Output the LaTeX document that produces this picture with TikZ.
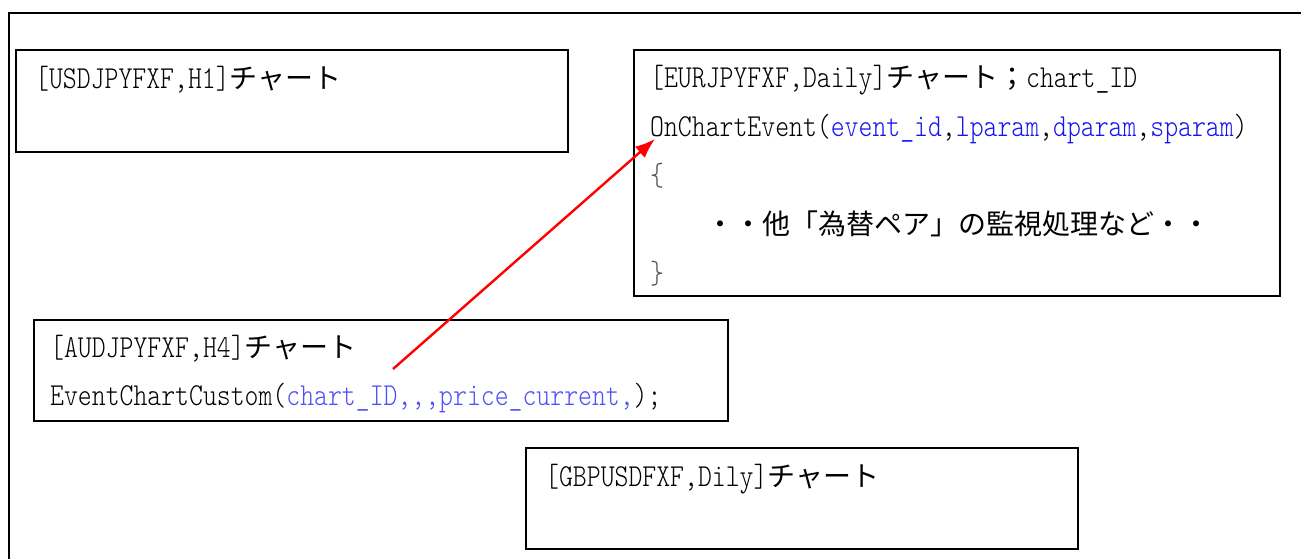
\documentclass[tikz,border=0pt]{standalone}
\usepackage{fontspec}
\usetikzlibrary{arrows.meta}
% Half-width Latin: light serif monospace, narrowed; Japanese in a CJK family
\setmainfont{lmmonolt10-regular.otf}[FakeStretch=0.827]
\newfontfamily\jpfont{Noto Sans CJK JP}
\newcommand{\jp}[1]{{\jpfont\fontsize{28}{30}\selectfont #1}}
\definecolor{argblue}{RGB}{20,20,240}
\definecolor{argblueb}{RGB}{80,80,250}
\definecolor{bracegray}{RGB}{85,85,85}
\tikzset{
  chartbox/.style={draw=black, line width=1.8pt, rectangle, inner sep=0pt, anchor=north west},
  codeline/.style={anchor=base west, inner sep=0pt, font=\fontsize{32}{34}\selectfont},
  frameline/.style={draw=black, line width=1.8pt},
  callarrow/.style={draw=red, line width=2.4pt, -{Latex[length=20pt,width=15pt]}}
}
\begin{document}
\begin{tikzpicture}[x=1pt, y=-1pt]
  \useasboundingbox (0,0) rectangle (1301,558);
  % outer frame, open to the right and below
  \draw[frameline] (1310,13) -- (9,13) -- (9,570);

  % chart boxes
  \node[chartbox, minimum width=552pt, minimum height=102pt] (usd) at (15,49) {};
  \node[chartbox, minimum width=646pt, minimum height=246pt] (eur) at (633,49) {};
  \node[chartbox, minimum width=694pt, minimum height=101pt] (aud) at (33,319) {};
  \node[chartbox, minimum width=552pt, minimum height=101pt] (gbp) at (525,447) {};

  % USDJPY chart
  \node[codeline] (usdT) at (35,88) {[USDJPYFXF,H1]\jp{チャート}};

  % EURJPY chart with its event handler
  \node[codeline] (eurT) at (650,87) {[EURJPYFXF,Daily]\jp{チャート；}chart\_ID};
  \node[codeline] (eurH) at (650,136) {OnChartEvent(\textcolor{argblue}{event\_id},\textcolor{argblue}{lparam},\textcolor{argblue}{dparam},\textcolor{argblue}{sparam})};
  \node[codeline, text=bracegray] (eurO) at (650,185) {\{};
  \node[codeline] (eurB) at (650,234) {\jp{　　・・他「為替ペア」の監視処理など・・}};
  \node[codeline, text=bracegray] (eurC) at (650,283) {\}};

  % AUDJPY chart raising the custom event
  \node[codeline] (audT) at (50,357) {[AUDJPYFXF,H4]\jp{チャート}};
  \node[codeline] (audC) at (50,405) {EventChartCustom(\textcolor{argblueb}{chart\_ID{,}{,}{,}price\_current{,}});};

  % GBPUSD chart
  \node[codeline] (gbpT) at (545,486) {[GBPUSDFXF,Dily]\jp{チャート}};

  % custom event delivered to the handler
  \coordinate (evSrc) at (393,369);
  \coordinate (evDst) at (655,139);
  \draw[callarrow] (evSrc) -- (evDst);
\end{tikzpicture}
\end{document}
